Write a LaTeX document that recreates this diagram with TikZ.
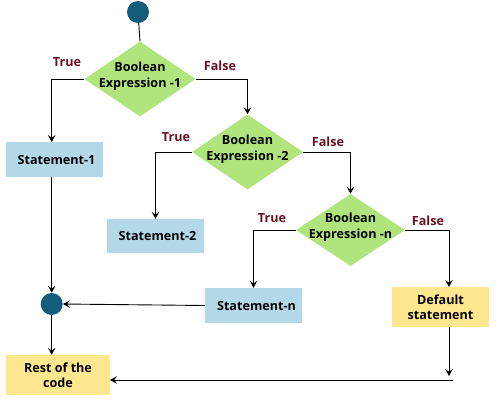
\documentclass[tikz,border=0pt]{standalone}
\usepackage{fontspec}
\setmainfont{Open Sans}
\usetikzlibrary{shapes.geometric,arrows.meta,positioning}
\definecolor{dkteal}{HTML}{135C7B}
\definecolor{dgreen}{HTML}{B0E57E}
\definecolor{sblue}{HTML}{B3D8E8}
\definecolor{syellow}{HTML}{FFE78F}
\definecolor{lblred}{HTML}{6B1020}
\tikzset{
  dot/.style={circle,fill=dkteal,draw=none,minimum size=22pt,inner sep=0pt},
  dia/.style={diamond,fill=dgreen,draw=none,minimum width=111pt,minimum height=75pt,inner sep=0pt},
  txt/.style={align=center,font=\bfseries\fontsize{12.6}{15.5}\selectfont,inner sep=0pt},
  stmt/.style={rectangle,fill=sblue,draw=none,minimum width=97pt,minimum height=35pt,font=\bfseries\fontsize{12.6}{15.5}\selectfont,align=center,inner sep=0pt},
  ybox/.style={rectangle,fill=syellow,draw=none,minimum width=97pt,minimum height=40pt,font=\bfseries\fontsize{12.6}{15.5}\selectfont,align=center,inner sep=0pt},
  lbl/.style={font=\bfseries\fontsize{12.6}{14}\selectfont,text=lblred,inner sep=0pt},
  ln/.style={draw=black,line width=0.9pt},
  arr/.style={ln,-{Stealth[length=7pt,width=7.5pt,inset=2.8pt]}}
}
\begin{document}
\begin{tikzpicture}[x=1pt,y=-1pt]
\useasboundingbox (0,0) rectangle (500,400);
\node[dot] (start) at (138,12) {};
\node[dia] (d1) at (140,79) {};
\node[txt] at (140,76) {Boolean\\Expression -1};
\node[stmt,minimum width=97pt] (s1) at (54.5,159.5) {\hspace*{4pt}Statement-1};
\node[dia] (d2) at (247.5,152) {};
\node[txt] at (247.5,149) {Boolean\\Expression -2};
\node[stmt,minimum height=34pt] (s2) at (155.5,236) {\hspace*{4pt}Statement-2};
\node[dia,minimum width=109pt,minimum height=72pt] (d3) at (350.5,230) {};
\node[txt] at (350.5,227) {Boolean\\Expression -n};
\node[stmt] (sn) at (253.5,305.5) {\hspace*{6pt}Statement-n};
\node[dot] (join) at (51.7,304) {};
\node[ybox,minimum width=104pt] (rest) at (58,375) {Rest of the\\code};
\node[ybox] (def) at (440.5,307) {Default\\statement};
\coordinate (c1) at (51.7,142);
\coordinate (c2) at (449,287);
\coordinate (c3) at (449,376);
\coordinate (c4) at (453,380);
\coordinate (c5) at (110,380);
\draw[ln] (start) -- (d1.north);
\draw[arr] (d1.west) -| (c1);
\draw[arr] (d1.east) -| (d2.north);
\draw[arr] (d2.west) -| (s2.north);
\draw[arr] (d2.east) -| (d3.north);
\draw[arr] (d3.west) -| (sn.north);
\draw[arr] (d3.east) -| (c2);
\draw[arr] (s1.south -| join) -- (join.north);
\draw[arr] (sn.west) -- (join.east);
\draw[arr] (join.south) -- (join |- rest.north);
\draw[arr] (def.south -| c2) -- (c3);
\draw[arr] (c4) -- (c5);
\node[lbl] at (67,62) {True};
\node[lbl] at (220,66) {False};
\node[lbl] at (176,137) {True};
\node[lbl] at (328,142) {False};
\node[lbl] at (272,218) {True};
\node[lbl] at (428,221) {False};
\end{tikzpicture}
\end{document}
